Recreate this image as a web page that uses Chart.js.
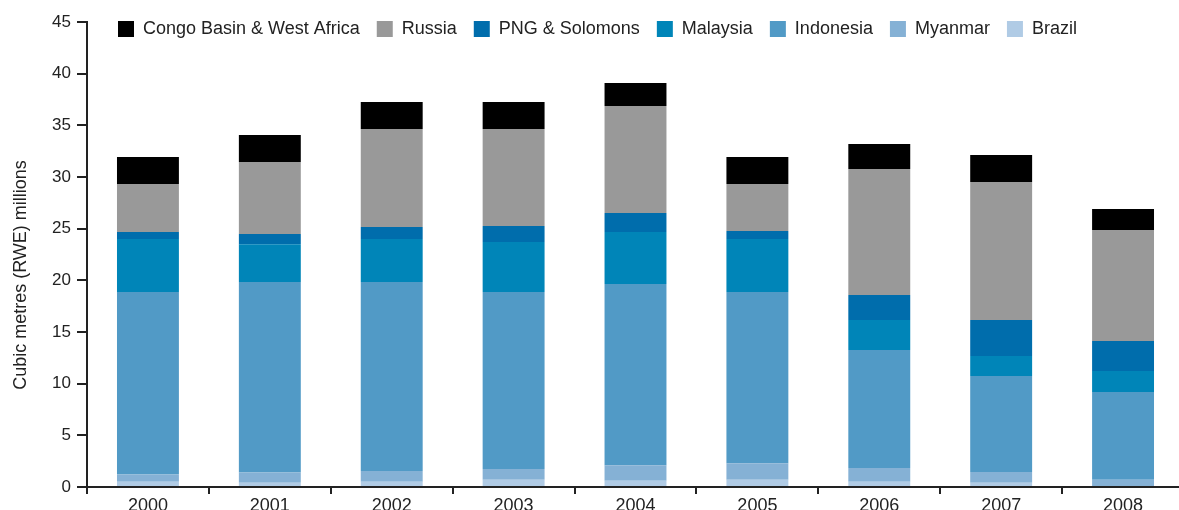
<!DOCTYPE html>
<html>
<head>
<meta charset="utf-8">
<script src="https://cdn.jsdelivr.net/npm/chart.js@4"></script>
<style>
    html, body { margin: 0; padding: 0; background: #fff; overflow: hidden; }
    #wrap { position: relative; width: 1184px; height: 510px; }
</style>
</head>
<body>
<div id="wrap"><canvas id="timberChart"></canvas></div>
<script>
    'use strict';

    const years = ['2000', '2001', '2002', '2003', '2004', '2005', '2006', '2007', '2008'];

    // stack increments, bottom to top
    const brazil    = [0.5, 0.4, 0.5, 0.7, 0.6, 0.7, 0.5, 0.4, 0];
    const myanmar   = [0.7, 1.0, 1.05, 1.05, 1.5, 1.6, 1.35, 1.05, 0.7];
    const indonesia = [17.67, 18.44, 18.29, 17.12, 17.55, 16.57, 11.41, 9.29, 8.49];
    const malaysia  = [5.13, 3.66, 4.16, 4.84, 5.03, 5.13, 2.9, 1.94, 2.04];
    const png       = [0.68, 0.98, 1.16, 1.55, 1.84, 0.77, 2.42, 3.48, 2.9];
    const russia    = [4.64, 6.97, 9.49, 9.39, 10.35, 4.55, 12.19, 13.36, 10.74];
    const congo     = [2.62, 2.61, 2.61, 2.61, 2.23, 2.62, 2.42, 2.61, 2.03];

    const yTicks = [0, 5, 10, 15, 20, 25, 30, 35, 40, 45];
    const yTitle = 'Cubic metres (RWE) millions';

    const FONT = '"Liberation Sans", Arial, sans-serif';
    const INK = '#222';

    function series(label, data, color) {
        return {
            label: label,
            data: data,
            backgroundColor: color,
            borderWidth: 0,
            barPercentage: 0.508,
            categoryPercentage: 1
        };
    }

    // legend lives inside the plot, top left, one row
    const legendNudge = {
        id: 'legendNudge',
        afterLayout(chart) {
            const lg = chart.legend;
            if (!lg) return;
            const pad = lg.options.labels.padding;
            lg.left = 118 - pad;
            lg.top = 20 - pad;
            lg.right = chart.width;
            lg.bottom = lg.top + 60;
            lg.width = lg.right - lg.left;
            lg.height = 60;
        }
    };

    // rotated y title, a little below the axis centre like the original
    const yTitlePlugin = {
        id: 'yTitlePlugin',
        afterDraw(chart) {
            const ctx = chart.ctx;
            ctx.save();
            ctx.translate(21, 275);
            ctx.rotate(-Math.PI / 2);
            ctx.font = '18px ' + FONT;
            ctx.fillStyle = INK;
            ctx.textAlign = 'center';
            ctx.textBaseline = 'middle';
            ctx.fillText(yTitle, 0, 0);
            ctx.restore();
        }
    };

    const ctx = document.getElementById('timberChart');
    new Chart(ctx, {
        type: 'bar',
        data: {
            labels: years,
            datasets: [
                series('Brazil', brazil, '#b0cbe5'),
                series('Myanmar', myanmar, '#85b1d5'),
                series('Indonesia', indonesia, '#519ac6'),
                series('Malaysia', malaysia, '#0085b8'),
                series('PNG & Solomons', png, '#006dac'),
                series('Russia', russia, '#999999'),
                series('Congo Basin & West Africa', congo, '#000000')
            ]
        },
        plugins: [legendNudge, yTitlePlugin],
        options: {
            responsive: true,
            maintainAspectRatio: false,
            animation: false,
            layout: {
                padding: { top: 21, right: 0, bottom: 0, left: 0 }
            },
            plugins: {
                legend: {
                    position: 'top',
                    align: 'start',
                    reverse: true,
                    maxHeight: 1,
                    labels: {
                        boxWidth: 16,
                        boxHeight: 16,
                        padding: 17,
                        color: INK,
                        font: { family: FONT, size: 18 }
                    }
                },
                tooltip: { enabled: false },
                title: { display: false }
            },
            scales: {
                x: {
                    stacked: true,
                    afterFit: s => { s.height = 23; },
                    border: { color: INK, width: 2 },
                    grid: {
                        offset: true,
                        drawOnChartArea: false,
                        color: INK,
                        lineWidth: 2,
                        tickLength: 7
                    },
                    ticks: {
                        color: INK,
                        padding: 1,
                        font: { family: FONT, size: 18 }
                    }
                },
                y: {
                    stacked: true,
                    min: 0,
                    max: 45,
                    afterFit: s => { s.width = 87; },
                    afterBuildTicks: s => { s.ticks = yTicks.map(v => ({ value: v })); },
                    border: { color: INK, width: 2 },
                    grid: {
                        drawOnChartArea: false,
                        color: INK,
                        lineWidth: 2,
                        tickLength: 10
                    },
                    ticks: {
                        color: INK,
                        padding: 6,
                        font: { family: FONT, size: 17 }
                    }
                }
            }
        }
    });
</script>
</body>
</html>
